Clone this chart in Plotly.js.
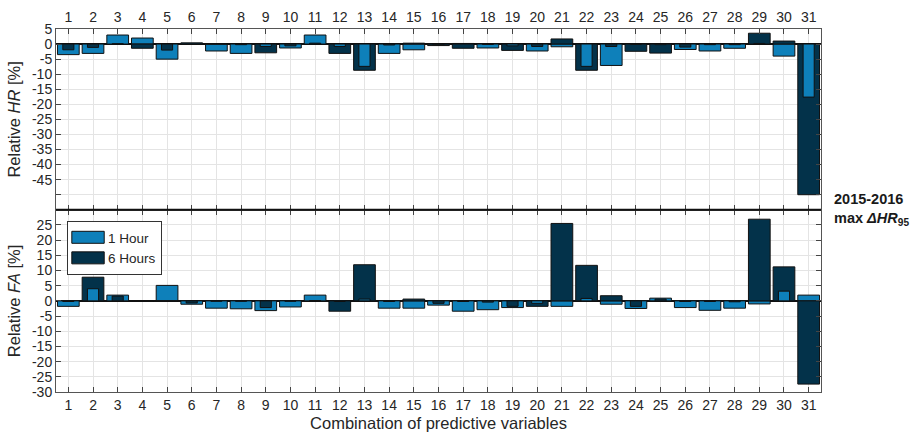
<!DOCTYPE html>
<html><head><meta charset="utf-8">
<script src="https://cdn.plot.ly/plotly-3.0.1.min.js"></script>
<style>html,body{margin:0;padding:0;background:#fff}#chart{width:921px;height:439px}</style>
</head><body><div id="chart"></div>
<script>
// Combination index (x categories)
const combos = [1,2,3,4,5,6,7,8,9,10,11,12,13,14,15,16,17,18,19,20,21,22,23,24,25,26,27,28,29,30,31];
// Relative HR [%]
const hr1Hour  = [-3.5,-3.1,3.0,2.0,-5.0,-0.1,-2.3,-3.1,-0.8,-1.3,3.0,-0.8,-7.4,-3.1,-1.9,-0.2,0.2,-1.3,-0.6,-2.3,-0.9,-7.4,-7.1,-0.1,-0.2,-1.8,-2.3,-1.4,0.2,-4.0,-17.6];
const hr6Hours = [-1.9,-1.1,0.1,-1.4,-2.0,0.4,0.0,-0.2,-2.9,-0.6,0.3,-3.1,-8.7,-0.3,0.3,-0.5,-1.4,-0.1,-2.1,-0.8,1.7,-8.7,-0.8,-2.4,-3.0,-1.0,-0.2,-0.2,3.6,1.0,-50.0];
// Relative FA [%]
const fa1Hour  = [-1.8,4.0,1.9,0.1,5.1,-1.1,-2.4,-2.6,-3.2,-2.0,1.9,-0.2,0.6,-2.4,-2.4,-1.4,-3.4,-2.9,-2.2,-0.8,-1.8,0.8,-1.1,-2.5,0.9,-2.2,-3.1,-2.4,-1.0,3.2,1.9];
const fa6Hours = [-0.2,7.8,1.6,0.0,0.0,-0.7,-0.1,-0.1,-2.2,-0.1,0.1,-3.4,11.9,-0.2,0.6,-0.8,-0.2,-0.4,-1.8,-1.8,25.5,11.7,1.7,-1.8,0.6,-0.2,-0.2,-0.3,26.9,11.2,-27.4];
// Tick values
const hrTicks = [5,0,-5,-10,-15,-20,-25,-30,-35,-40,-45];
const hrTickLabels = ['5','0','-5','-10','-15','-20','-25','-30','-35','-40','-45'];
const hrExtraTicks = [-50];
const faTicks = [25,20,15,10,5,0,-5,-10,-15,-20,-25,-30];
const faTickLabels = ['25','20','15','10','5','0','-5','-10','-15','-20','-25','-30'];
const seriesNames = ['1 Hour','6 Hours'];

const C1 = '#0E80BA', C6 = '#03324A';
const FONT = 'Liberation Sans, Arial, sans-serif';
const TXT = '#262626';
const WIDE = 0.88, NARROW = 0.45;

function split(a, b) {
  const r = {aW:[], bW:[], aN:[], bN:[]};
  for (let i = 0; i < a.length; i++) {
    const same = a[i] * b[i] > 0;
    if (same && Math.abs(a[i]) < Math.abs(b[i])) { r.aN.push(a[i]); r.aW.push(null); r.bW.push(b[i]); r.bN.push(null); }
    else if (same && Math.abs(b[i]) < Math.abs(a[i])) { r.bN.push(b[i]); r.bW.push(null); r.aW.push(a[i]); r.aN.push(null); }
    else { r.aW.push(a[i]); r.bW.push(b[i]); r.aN.push(null); r.bN.push(null); }
  }
  return r;
}

function bars(a, b, xa, ya, legend) {
  const s = split(a, b);
  const mk = (y, color, w, name, show, rank) => ({
    type:'bar', x: combos, y: y, width: w, xaxis: xa, yaxis: ya,
    marker:{color: color, line:{color:'#111', width:1}},
    name: name, showlegend: show, legendrank: rank, legendgroup: name, hoverinfo:'skip'
  });
  return [
    mk(s.aW, C1, WIDE, seriesNames[0], legend, 1),
    mk(s.bW, C6, WIDE, seriesNames[1], legend, 2),
    mk(s.aN, C1, NARROW, seriesNames[0], false, 3),
    mk(s.bN, C6, NARROW, seriesNames[1], false, 4)
  ];
}

const data = [].concat(
  bars(fa1Hour, fa6Hours, 'x', 'y', true),
  bars(hr1Hour, hr6Hours, 'x2', 'y2', false)
);

const SPLIT = 0.502;
const xcommon = {
  range:[0.5,31.5], tickvals: combos, ticktext: combos.map(String),
  ticks:'inside', ticklen:5, tickcolor:'#444', showline:true, linecolor:'#555', linewidth:1,
  mirror:'ticks', showgrid:true, gridcolor:'#e4e4e4', gridwidth:1, zeroline:false,
  tickfont:{family:FONT, size:14, color:TXT}, fixedrange:true
};
const ycommon = {
  ticks:'inside', ticklen:5, tickcolor:'#444', showline:true, linecolor:'#555', linewidth:1,
  mirror:'ticks', showgrid:true, gridcolor:'#e4e4e4', gridwidth:1,
  zeroline:true, zerolinecolor:'#111', zerolinewidth:2,
  tickfont:{family:FONT, size:14, color:TXT}, fixedrange:true
};

const layout = {
  width:921, height:439,
  margin:{l:56, r:100, t:29, b:47},
  paper_bgcolor:'#fff', plot_bgcolor:'#fff',
  barmode:'overlay', bargap:0,
  font:{family:FONT, color:TXT},
  xaxis: Object.assign({}, xcommon, {anchor:'y', side:'bottom',
    title:{text:'Combination of predictive variables', font:{family:FONT, size:16.5, color:TXT}, standoff:5}}),
  xaxis2: Object.assign({}, xcommon, {anchor:'y2', side:'top'}),
  yaxis: Object.assign({}, ycommon, {domain:[0, SPLIT], range:[-30,30], tickvals: faTicks, ticktext: faTickLabels,
    title:{text:'Relative <i>FA</i> [%]', font:{family:FONT, size:16.5, color:TXT}, standoff:7}}),
  yaxis2: Object.assign({}, ycommon, {domain:[SPLIT, 1], range:[-55,5], tickvals: hrTicks, ticktext: hrTickLabels,
    minor:{tickvals: hrExtraTicks, ticks:'inside', ticklen:5, tickcolor:'#444', showgrid:true, gridcolor:'#e4e4e4', gridwidth:1},
    title:{text:'Relative <i>HR</i> [%]', font:{family:FONT, size:16.5, color:TXT}, standoff:7}}),
  legend:{x:0.0144, y:0.471, xanchor:'left', yanchor:'top', bgcolor:'#fff', bordercolor:'#333', borderwidth:1,
    font:{family:FONT, size:13.5, color:TXT}, tracegroupgap:0, traceorder:'normal'},
  shapes:[{type:'line', xref:'paper', yref:'paper', x0:0, x1:1, y0:SPLIT, y1:SPLIT, line:{color:'#111', width:2}, layer:'above'}],
  annotations:[{
    xref:'paper', yref:'paper', x:1.015, y:SPLIT+0.058, xanchor:'left', yanchor:'top', align:'left', showarrow:false,
    text:'<b>2015-2016</b><br><b>max <i>Δ</i><i>HR</i><sub>95</sub></b>',
    font:{family:FONT, size:14.5, color:'#1a1a1a'}
  }]
};

Plotly.newPlot('chart', data, layout, {displayModeBar:false, staticPlot:true}).then(function(gd){
  gd.querySelectorAll('.legend .legendpoints path').forEach(function(p){
    const t = p.getAttribute('transform') || '';
    p.setAttribute('transform', (t + ' scale(2.7,1)').trim());
    p.setAttribute('vector-effect', 'non-scaling-stroke');
  });
  gd.querySelectorAll('text').forEach(function(t){
    if (!t.textContent || !t.textContent.trim()) t.remove();
  });
});
</script>
</body></html>
